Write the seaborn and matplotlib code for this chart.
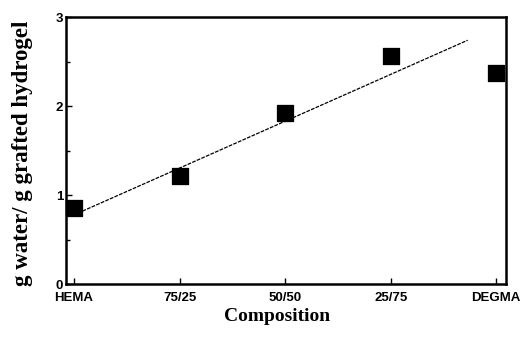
import numpy as np
import pandas as pd
import matplotlib
matplotlib.use('Agg')
import matplotlib.pyplot as plt
from matplotlib.ticker import MultipleLocator
import seaborn as sns

# data
compositions = ['HEMA', '75/25', '50/50', '25/75', 'DEGMA']
water_uptake = [0.86, 1.22, 1.92, 2.56, 2.37]

# linear fit line drawn in the figure (end points, in category units)
fit_x = [0.08, 3.73]
fit_y = [0.82, 2.74]

df = pd.DataFrame({'pos': np.arange(len(compositions)), 'uptake': water_uptake})
df_fit = pd.DataFrame({'pos': fit_x, 'uptake': fit_y})

sns.set_style('ticks', {'text.color': 'black', 'axes.labelcolor': 'black',
                        'xtick.color': 'black', 'ytick.color': 'black',
                        'axes.edgecolor': 'black'})
plt.rcParams['font.family'] = ['Liberation Sans', 'DejaVu Sans']

fig = plt.figure(figsize=(5.24, 3.49), dpi=100)
ax = fig.add_axes([0.126, 0.186, 0.840, 0.765])

sns.lineplot(data=df_fit, x='pos', y='uptake', ax=ax, color='black',
             linewidth=0.9, linestyle=(0, (3, 1)))
sns.scatterplot(data=df, x='pos', y='uptake', ax=ax, marker='s', s=135,
                color='black', edgecolor='black', zorder=3, clip_on=False)

ax.set_xlim(-0.076, 4.095)
ax.set_ylim(0, 3)
ax.set_xticks(df['pos'])
ax.set_xticklabels(compositions)
ax.yaxis.set_major_locator(MultipleLocator(1))
ax.yaxis.set_minor_locator(MultipleLocator(0.5))

for side in ['left', 'right', 'top', 'bottom']:
    ax.spines[side].set_visible(True)
    ax.spines[side].set_linewidth(1.8)

ax.tick_params(axis='both', which='major', direction='in', length=4, width=1,
               labelsize=9.5, pad=2)
ax.tick_params(axis='y', which='minor', direction='in', length=3, width=1)
ax.tick_params(axis='x', pad=5.5)
for lab in ax.get_xticklabels() + ax.get_yticklabels():
    lab.set_fontweight('bold')

ax.set_xlabel('Composition', family='Liberation Serif', fontweight='bold',
              fontsize=14, labelpad=4)
ax.xaxis.set_label_coords(0.48, -0.09, transform=ax.transAxes)
ax.xaxis.label.set_verticalalignment('top')
ax.set_ylabel('g water/ g grafted hydrogel', family='Liberation Serif',
              fontweight='bold', fontsize=16.5)
ax.yaxis.set_label_coords(-0.076, 0.49, transform=ax.transAxes)

fig.savefig('out.png', dpi=100)
